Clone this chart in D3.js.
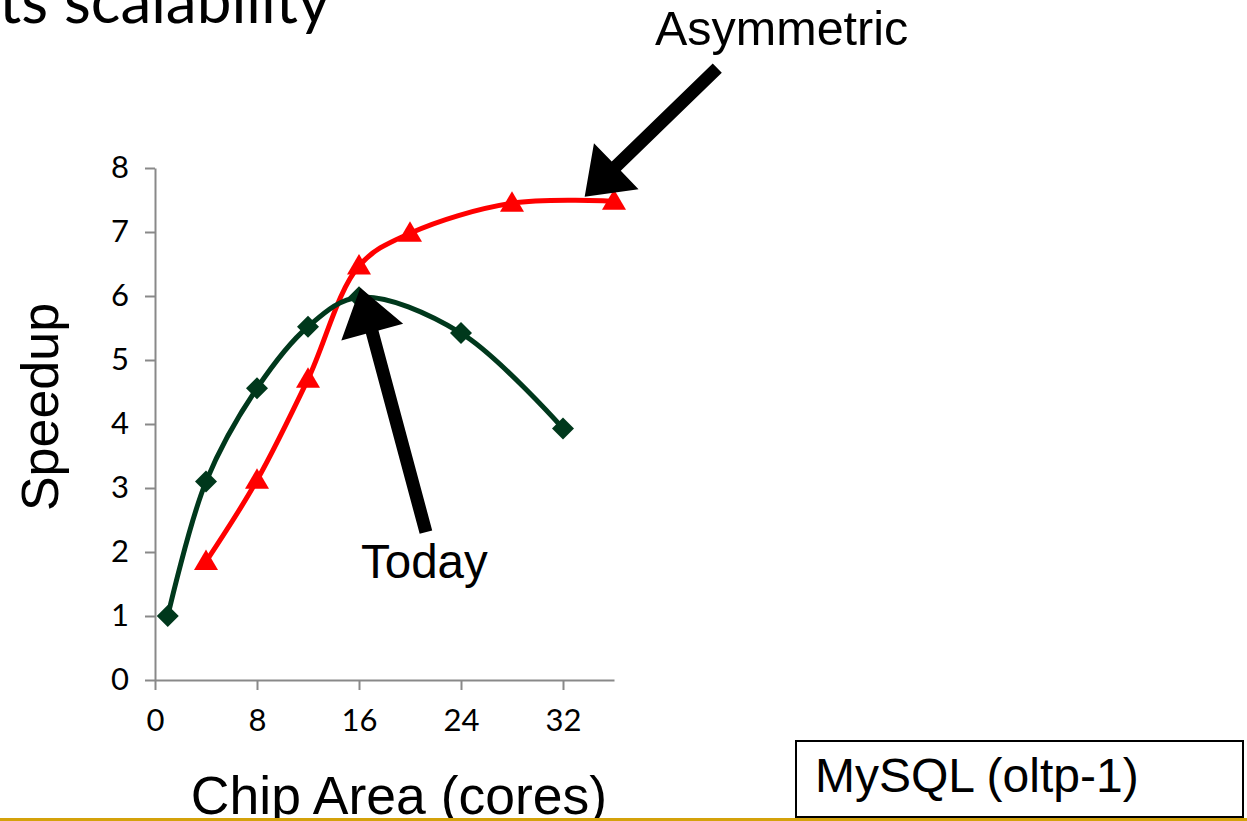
<!DOCTYPE html>
<html>
<head>
<meta charset="utf-8">
<script src="https://cdn.jsdelivr.net/npm/d3@7"></script>
<style>
  html, body { margin: 0; padding: 0; background: #fff; }
  svg { display: block; }
</style>
</head>
<body>
<svg id="chart" width="1247" height="821"></svg>
<script>
// Speedup vs. chip area for MySQL (oltp-1)
const xTicks = [0, 8, 16, 24, 32];
const yTicks = [0, 1, 2, 3, 4, 5, 6, 7, 8];

const symmetricCores   = [1, 4, 8, 12, 16, 24, 32];
const symmetricSpeedup = [1.0, 3.1, 4.56, 5.52, 5.98, 5.42, 3.93];

const asymCores   = [4, 8, 12, 16, 20, 28, 36];
const asymSpeedup = [1.85, 3.12, 4.7, 6.47, 6.98, 7.45, 7.48];

// annotation arrows, in data units: [tailX, tailY, tipX, tipY]
const todayArrow = [21.25, 2.31, 16.1, 6.13];
const asymArrow  = [44.1, 9.56, 33.7, 7.55];

const svg = d3.select("#chart");
const axisColor = "#898989";
const green = "#00381c";
const red = "#ff0000";

const x = d3.scaleLinear().domain([0, 36]).range([155, 614]);
const y = d3.scaleLinear().domain([0, 8]).range([680, 168]);

// slide title fragment
svg.append("text")
  .attr("x", -1).attr("y", 23)
  .attr("font-family", "Lato, 'Open Sans', sans-serif")
  .attr("font-size", 62)
  .attr("fill", "#000")
  .text("ts scalability");

// axes
const yAxis = d3.axisLeft(y).tickValues(yTicks).tickSize(10).tickSizeOuter(0).tickPadding(16);
const xAxis = d3.axisBottom(x).tickValues(xTicks).tickSize(10).tickSizeOuter(0).tickPadding(19);

const gy = svg.append("g").attr("transform", `translate(${x(0)},0)`).call(yAxis);
const gx = svg.append("g").attr("transform", `translate(0,${y(0)})`).call(xAxis);

[gx, gy].forEach(g => {
  g.selectAll("path.domain").attr("stroke", axisColor).attr("stroke-width", 2);
  g.selectAll(".tick line").attr("stroke", axisColor).attr("stroke-width", 2);
  g.selectAll(".tick text")
    .attr("font-family", "Lato, Carlito, sans-serif")
    .attr("font-size", 31)
    .attr("fill", "#000");
});

// axis titles
svg.append("text")
  .attr("transform", `translate(58,${407}) rotate(-90)`)
  .attr("text-anchor", "middle")
  .attr("font-family", "'Liberation Sans', Arial, sans-serif")
  .attr("font-size", 52)
  .text("Speedup");

svg.append("text")
  .attr("x", 399).attr("y", 814)
  .attr("text-anchor", "middle")
  .attr("font-family", "'Liberation Sans', Arial, sans-serif")
  .attr("font-size", 53.5)
  .text("Chip Area (cores)");

// series lines
const line = d3.line()
  .x(d => x(d[0]))
  .y(d => y(d[1]))
  .curve(d3.curveCatmullRom.alpha(0.5));

const symData = symmetricCores.map((c, i) => [c, symmetricSpeedup[i]]);
const asymData = asymCores.map((c, i) => [c, asymSpeedup[i]]);

svg.append("path")
  .datum(asymData)
  .attr("d", line)
  .attr("fill", "none")
  .attr("stroke", red)
  .attr("stroke-width", 5);

svg.append("path")
  .datum(symData)
  .attr("d", line)
  .attr("fill", "none")
  .attr("stroke", green)
  .attr("stroke-width", 5);

// markers
svg.append("g").selectAll("path")
  .data(asymData)
  .join("path")
  .attr("transform", d => `translate(${x(d[0])},${y(d[1])})`)
  .attr("d", "M0,-12 L12,8.5 L-12,8.5 Z")
  .attr("fill", red);

svg.append("g").selectAll("path")
  .data(symData)
  .join("path")
  .attr("transform", d => `translate(${x(d[0])},${y(d[1])})`)
  .attr("d", "M0,-11 L11,0 L0,11 L-11,0 Z")
  .attr("fill", green);

// thick block arrows
function blockArrow(a, shaft, headLen, headWidth) {
  const x1 = x(a[0]), y1 = y(a[1]), x2 = x(a[2]), y2 = y(a[3]);
  const dx = x2 - x1, dy = y2 - y1;
  const len = Math.hypot(dx, dy);
  const ux = dx / len, uy = dy / len;
  const nx = -uy, ny = ux;
  const bx = x2 - ux * headLen, by = y2 - uy * headLen;
  const pts = [
    [x1 + nx * shaft / 2, y1 + ny * shaft / 2],
    [bx + nx * shaft / 2, by + ny * shaft / 2],
    [bx + nx * headWidth / 2, by + ny * headWidth / 2],
    [x2, y2],
    [bx - nx * headWidth / 2, by - ny * headWidth / 2],
    [bx - nx * shaft / 2, by - ny * shaft / 2],
    [x1 - nx * shaft / 2, y1 - ny * shaft / 2]
  ];
  svg.append("path")
    .attr("d", "M" + pts.map(p => p.join(",")).join("L") + "Z")
    .attr("fill", "#000");
}
blockArrow(todayArrow, 13, 46, 64);
blockArrow(asymArrow, 13, 44, 64);

// annotation labels
svg.append("text")
  .attr("x", 361).attr("y", 578)
  .attr("font-family", "'Liberation Sans', Arial, sans-serif")
  .attr("font-size", 47.5)
  .text("Today");

svg.append("text")
  .attr("x", 655).attr("y", 45)
  .attr("font-family", "'Liberation Sans', Arial, sans-serif")
  .attr("font-size", 48.5)
  .text("Asymmetric");

// footer rule
svg.append("line")
  .attr("x1", 0).attr("x2", 1247)
  .attr("y1", 819.5).attr("y2", 819.5)
  .attr("stroke", "#d4a20a")
  .attr("stroke-width", 3);

// workload label box
svg.append("rect")
  .attr("x", 796).attr("y", 741)
  .attr("width", 447).attr("height", 76)
  .attr("fill", "#fff")
  .attr("stroke", "#000")
  .attr("stroke-width", 2);

svg.append("text")
  .attr("x", 815).attr("y", 792)
  .attr("font-family", "'Liberation Sans', Arial, sans-serif")
  .attr("font-size", 48)
  .text("MySQL (oltp-1)");
</script>
</body>
</html>
